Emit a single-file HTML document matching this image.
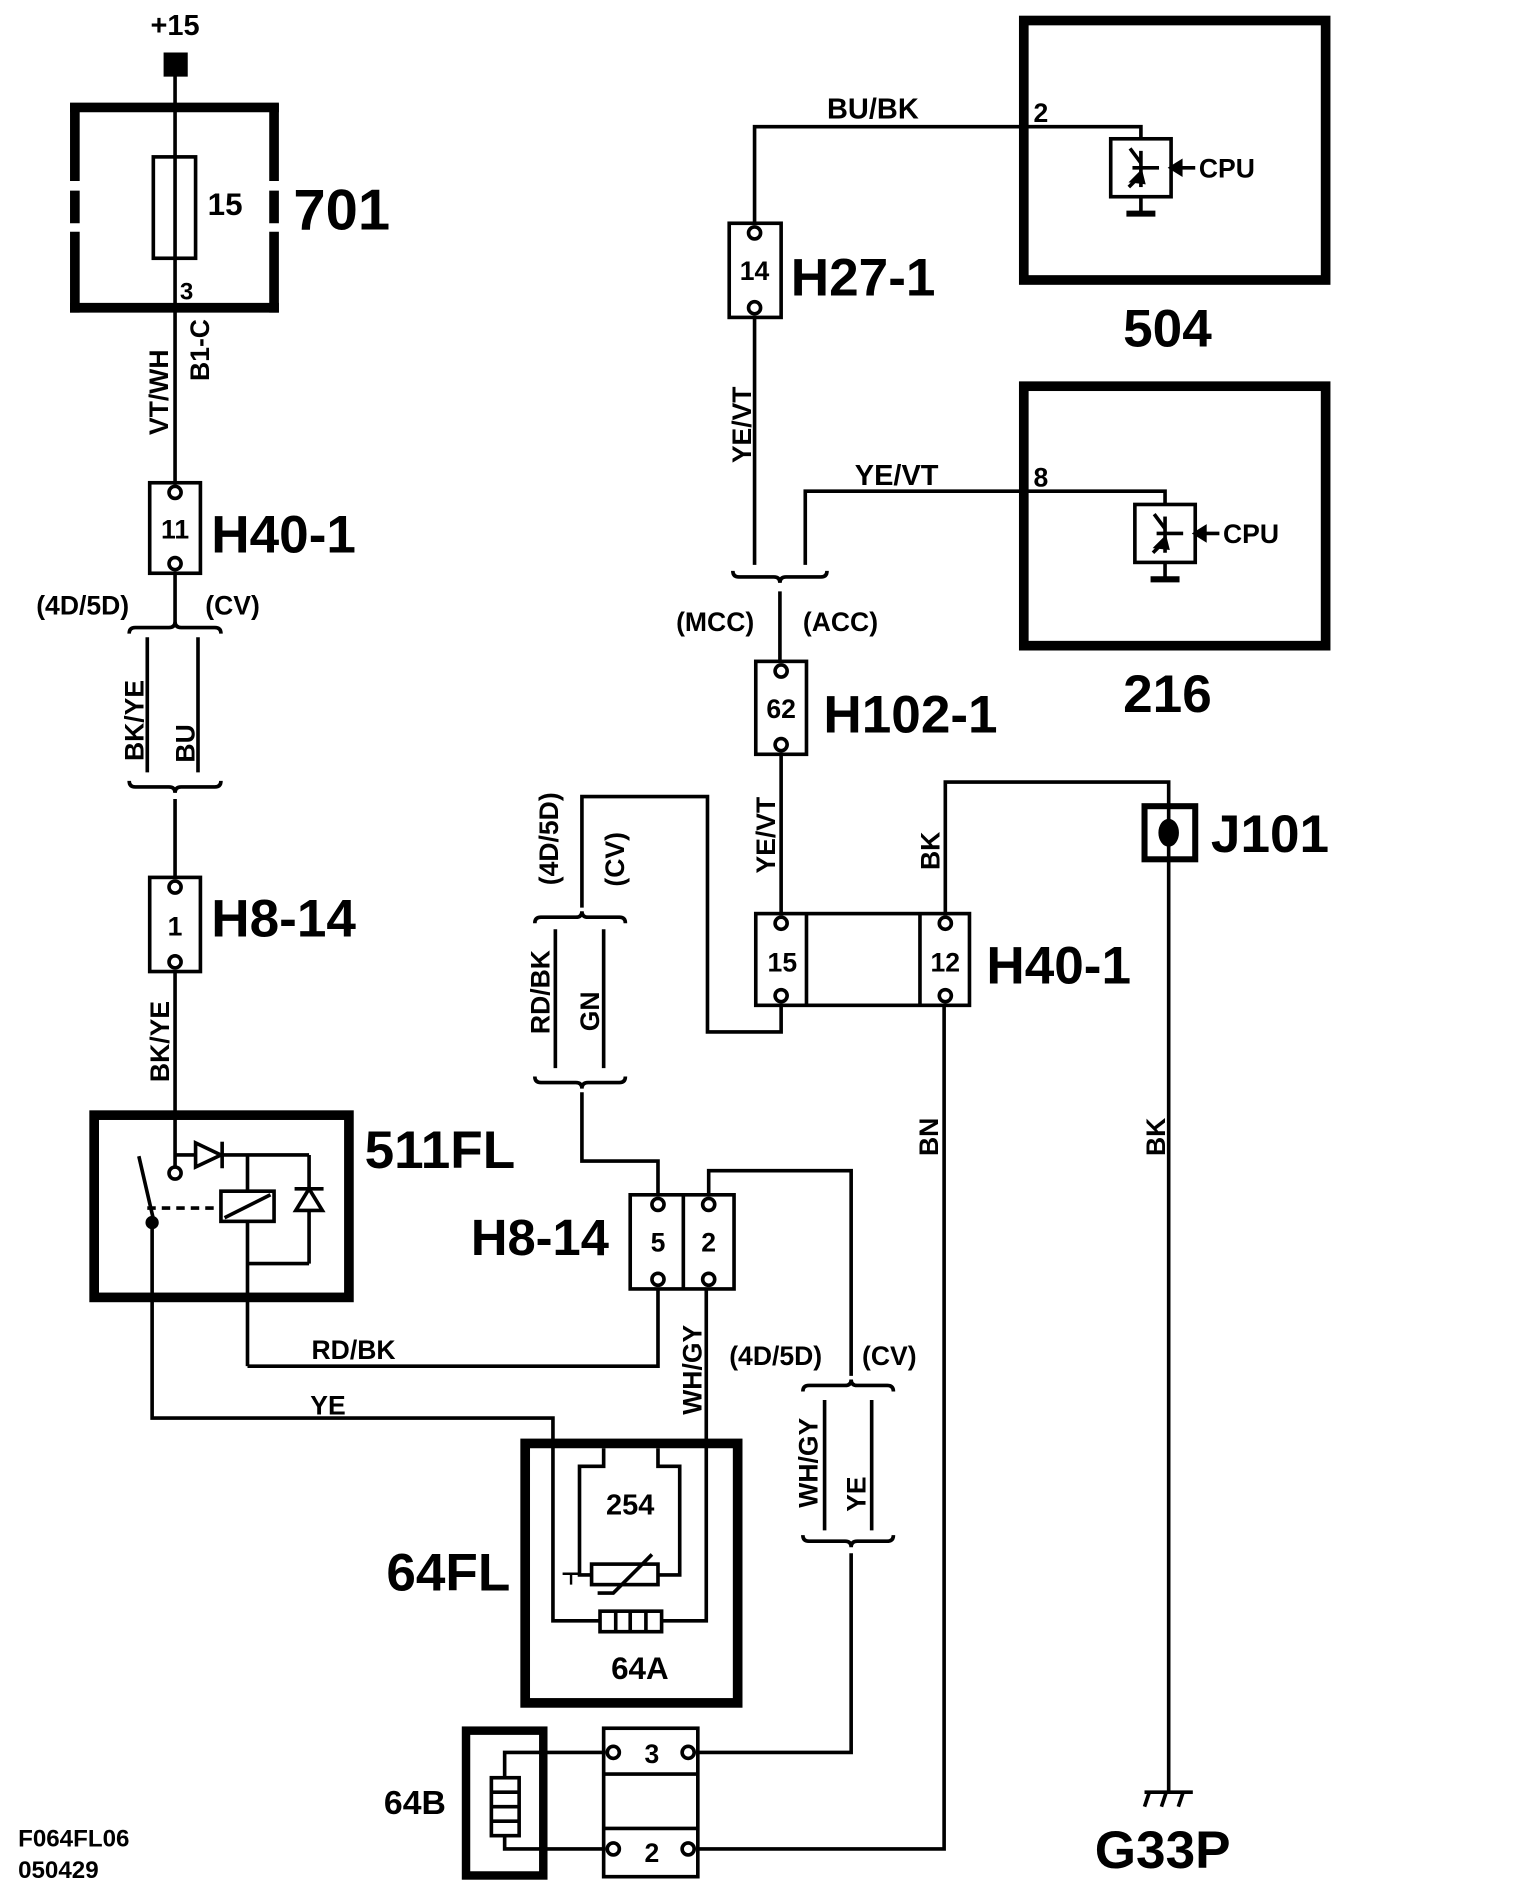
<!DOCTYPE html>
<html><head><meta charset="utf-8">
<style>
html,body{margin:0;padding:0;background:#fff;}
svg{display:block;}
text{font-family:"Liberation Sans",Arial,sans-serif;font-weight:bold;fill:#000;}
</style></head><body>
<svg width="1520" height="1896" viewBox="0 0 1259 1571" preserveAspectRatio="none" xmlns="http://www.w3.org/2000/svg">
<g fill="none" stroke="#000" stroke-width="3">
<rect x="137" y="45" width="17" height="17" fill="#000"/>
<line x1="145" y1="55" x2="145" y2="400"/>
<g stroke-width="8">
<line x1="58" y1="89" x2="231" y2="89"/>
<line x1="58" y1="255" x2="231" y2="255"/>
<line x1="62" y1="86" x2="62" y2="150"/><line x1="62" y1="158" x2="62" y2="185"/><line x1="62" y1="192" x2="62" y2="259"/>
<line x1="227" y1="86" x2="227" y2="150"/><line x1="227" y1="158" x2="227" y2="185"/><line x1="227" y1="192" x2="227" y2="259"/>
</g>
<rect x="127" y="130" width="35" height="84"/>
<rect x="124" y="400" width="42" height="75"/>
<circle cx="145" cy="408" r="5" fill="#fff"/><circle cx="145" cy="467" r="5" fill="#fff"/>
<line x1="145" y1="475" x2="145" y2="515"/>
<path d="M107,525 q0,-5 5,-5 H140 q5,0 5,-5 q0,5 5,5 H178 q5,0 5,5"/>
<line x1="122" y1="528" x2="122" y2="640"/><line x1="164" y1="528" x2="164" y2="640"/>
<path d="M107,647 q0,5 5,5 H140 q5,0 5,5 q0,-5 5,-5 H178 q5,0 5,-5"/>
<line x1="145" y1="662" x2="145" y2="727"/>
<rect x="124" y="727" width="42" height="78"/>
<circle cx="145" cy="735" r="5" fill="#fff"/><circle cx="145" cy="797" r="5" fill="#fff"/>
<line x1="145" y1="805" x2="145" y2="967"/>
<rect x="78" y="924" width="211" height="151" stroke-width="8"/>
<circle cx="145" cy="972" r="5" fill="#fff"/>
<line x1="145" y1="957" x2="256" y2="957"/>
<path d="M162,947 L183,957 L162,967 Z" fill="#fff"/><line x1="184" y1="946" x2="184" y2="968"/>
<line x1="205" y1="957" x2="205" y2="1132"/>
<rect x="183" y="987" width="44" height="25" fill="#fff"/><line x1="186" y1="1009" x2="224" y2="990"/>
<line x1="256" y1="957" x2="256" y2="1047"/><line x1="205" y1="1047" x2="256" y2="1047"/>
<path d="M245,1003 L256,985 L267,1003 Z" fill="#fff"/><line x1="244" y1="985" x2="268" y2="985"/>
<line x1="115" y1="958" x2="127" y2="1010"/>
<line x1="122" y1="1001" x2="183" y2="1001" stroke-dasharray="7,5"/>
<circle cx="126" cy="1013" r="4" fill="#000"/>
<polyline points="126,1013 126,1175 458,1175 458,1343 497,1343"/>
<polyline points="205,1132 545,1132 545,1068"/>
<rect x="522" y="990" width="86" height="78"/><line x1="566" y1="990" x2="566" y2="1068"/>
<circle cx="545" cy="998" r="5" fill="#fff"/><circle cx="545" cy="1060" r="5" fill="#fff"/>
<circle cx="587" cy="998" r="5" fill="#fff"/><circle cx="587" cy="1060" r="5" fill="#fff"/>
<polyline points="545,990 545,962 482,962 482,905"/>
<path d="M443,892 q0,5 5,5 H477 q5,0 5,5 q0,-5 5,-5 H513 q5,0 5,-5"/>
<line x1="460" y1="770" x2="460" y2="885"/><line x1="500" y1="770" x2="500" y2="885"/>
<path d="M443,765 q0,-5 5,-5 H477 q5,0 5,-5 q0,5 5,5 H513 q5,0 5,5"/>
<polyline points="482,752 482,660 586,660 586,855 647,855 647,833"/>
<polyline points="587,990 587,970 705,970 705,1140"/>
<path d="M665,1153 q0,-5 5,-5 H700 q5,0 5,-5 q0,5 5,5 H735 q5,0 5,5"/>
<line x1="683" y1="1160" x2="683" y2="1268"/><line x1="722" y1="1160" x2="722" y2="1268"/>
<path d="M665,1272 q0,5 5,5 H700 q5,0 5,5 q0,-5 5,-5 H735 q5,0 5,-5"/>
<polyline points="705,1287 705,1452 578,1452"/>
<rect x="435" y="1196" width="176" height="215" stroke-width="8"/>
<polyline points="500,1200 500,1215 480,1215 480,1305 490,1305"/>
<polyline points="545,1200 545,1215 563,1215 563,1305 545,1305"/>
<rect x="490" y="1296" width="55" height="17" fill="#fff"/>
<polyline points="495,1320 508,1320 540,1288"/>
<line x1="466" y1="1304" x2="480" y2="1304" stroke-width="2"/><line x1="473" y1="1304" x2="473" y2="1313" stroke-width="2"/>
<rect x="497" y="1335" width="51" height="17" fill="#fff"/>
<line x1="510" y1="1335" x2="510" y2="1352"/><line x1="522" y1="1335" x2="522" y2="1352"/><line x1="535" y1="1335" x2="535" y2="1352"/>
<polyline points="548,1343 585,1343 585,1068"/>
<rect x="386" y="1434" width="64" height="120" stroke-width="7"/>
<rect x="407" y="1473" width="23" height="48" fill="#fff"/>
<line x1="407" y1="1485" x2="430" y2="1485"/><line x1="407" y1="1497" x2="430" y2="1497"/><line x1="407" y1="1509" x2="430" y2="1509"/>
<polyline points="418,1473 418,1452 500,1452"/>
<polyline points="418,1521 418,1532 500,1532"/>
<rect x="500" y="1432" width="78" height="123"/>
<line x1="500" y1="1470" x2="578" y2="1470"/><line x1="500" y1="1515" x2="578" y2="1515"/>
<circle cx="508" cy="1452" r="5" fill="#fff"/><circle cx="570" cy="1452" r="5" fill="#fff"/>
<circle cx="508" cy="1532" r="5" fill="#fff"/><circle cx="570" cy="1532" r="5" fill="#fff"/>
<polyline points="578,1532 782,1532 782,833"/>
<rect x="848" y="17" width="250" height="215" stroke-width="8"/>
<rect x="848" y="320" width="250" height="215" stroke-width="8"/>
<polyline points="625,185 625,105 945,105 945,115"/>
<rect x="920" y="115" width="50" height="48"/>
<g stroke-width="3"><line x1="936" y1="123" x2="945" y2="135"/><line x1="945" y1="125" x2="945" y2="155"/><line x1="938" y1="139" x2="960" y2="139"/><line x1="935" y1="155" x2="945" y2="145"/></g>
<path d="M938,150 l7,-7 l2,8 z" fill="#000"/>
<line x1="972" y1="139" x2="990" y2="139"/><path d="M970,139 l8,-5 v10 z" fill="#000"/>
<line x1="945" y1="163" x2="945" y2="177"/><line x1="933" y1="177" x2="957" y2="177" stroke-width="5"/>
<rect x="604" y="185" width="43" height="78"/>
<circle cx="625" cy="193" r="5" fill="#fff"/><circle cx="625" cy="255" r="5" fill="#fff"/>
<line x1="625" y1="263" x2="625" y2="468"/>
<polyline points="667,468 667,407 965,407 965,418"/>
<rect x="940" y="418" width="50" height="48"/>
<g stroke-width="3"><line x1="956" y1="426" x2="965" y2="438"/><line x1="965" y1="428" x2="965" y2="458"/><line x1="958" y1="442" x2="980" y2="442"/><line x1="955" y1="458" x2="965" y2="448"/></g>
<path d="M958,453 l7,-7 l2,8 z" fill="#000"/>
<line x1="992" y1="442" x2="1010" y2="442"/><path d="M990,442 l8,-5 v10 z" fill="#000"/>
<line x1="965" y1="466" x2="965" y2="480"/><line x1="953" y1="480" x2="977" y2="480" stroke-width="5"/>
<path d="M607,473 q0,5 5,5 H641 q5,0 5,5 q0,-5 5,-5 H680 q5,0 5,-5"/>
<line x1="646" y1="490" x2="646" y2="548"/>
<rect x="626" y="548" width="42" height="77"/>
<circle cx="647" cy="556" r="5" fill="#fff"/><circle cx="647" cy="617" r="5" fill="#fff"/>
<line x1="647" y1="625" x2="647" y2="757"/>
<rect x="626" y="757" width="177" height="76"/>
<line x1="668" y1="757" x2="668" y2="833"/><line x1="762" y1="757" x2="762" y2="833"/>
<circle cx="647" cy="765" r="5" fill="#fff"/><circle cx="647" cy="825" r="5" fill="#fff"/>
<circle cx="783" cy="765" r="5" fill="#fff"/><circle cx="783" cy="825" r="5" fill="#fff"/>
<polyline points="783,757 783,648 968,648 968,1485"/>
<rect x="948" y="668" width="42" height="44" stroke-width="5" fill="#fff"/>
<ellipse cx="968" cy="690" rx="7" ry="10" fill="#000"/>
<line x1="968" y1="668" x2="968" y2="712"/>
<line x1="948" y1="1485" x2="988" y2="1485"/>
<line x1="952" y1="1485" x2="948" y2="1497"/><line x1="966" y1="1485" x2="962" y2="1497"/><line x1="980" y1="1485" x2="976" y2="1497"/>
</g>
<text x="145" y="29" font-size="24" text-anchor="middle">+15</text>
<text x="172" y="178" font-size="26">15</text>
<text x="149" y="248" font-size="20">3</text>
<text x="243" y="190" font-size="48">701</text>
<text transform="translate(139,325) rotate(-90)" font-size="22" text-anchor="middle">VT/WH</text>
<text transform="translate(173,290) rotate(-90)" font-size="22" text-anchor="middle">B1-C</text>
<text x="145" y="446" font-size="22" text-anchor="middle">11</text>
<text x="175" y="458" font-size="44">H40-1</text>
<text x="30" y="509" font-size="22">(4D/5D)</text>
<text x="170" y="509" font-size="22">(CV)</text>
<text transform="translate(119,597) rotate(-90)" font-size="22" text-anchor="middle">BK/YE</text>
<text transform="translate(161,616) rotate(-90)" font-size="22" text-anchor="middle">BU</text>
<text x="145" y="775" font-size="22" text-anchor="middle">1</text>
<text x="175" y="776" font-size="44">H8-14</text>
<text transform="translate(140,863) rotate(-90)" font-size="22" text-anchor="middle">BK/YE</text>
<text x="302" y="968" font-size="44">511FL</text>
<text x="390" y="1040" font-size="42">H8-14</text>
<text x="545" y="1037" font-size="22" text-anchor="middle">5</text>
<text x="587" y="1037" font-size="22" text-anchor="middle">2</text>
<text x="258" y="1126" font-size="22">RD/BK</text>
<text x="257" y="1172" font-size="22">YE</text>
<text transform="translate(581,1135) rotate(-90)" font-size="22" text-anchor="middle">WH/GY</text>
<text x="604" y="1131" font-size="22">(4D/5D)</text>
<text x="714" y="1131" font-size="22">(CV)</text>
<text transform="translate(677,1212) rotate(-90)" font-size="22" text-anchor="middle">WH/GY</text>
<text transform="translate(717,1238) rotate(-90)" font-size="22" text-anchor="middle">YE</text>
<text x="522" y="1255" font-size="24" text-anchor="middle">254</text>
<text x="530" y="1391" font-size="26" text-anchor="middle">64A</text>
<text x="320" y="1318" font-size="44">64FL</text>
<text x="318" y="1503" font-size="28">64B</text>
<text x="540" y="1461" font-size="22" text-anchor="middle">3</text>
<text x="540" y="1543" font-size="22" text-anchor="middle">2</text>
<text x="15" y="1530" font-size="20">F064FL06</text>
<text x="15" y="1556" font-size="20">050429</text>
<text transform="translate(462,695) rotate(-90)" font-size="22" text-anchor="middle">(4D/5D)</text>
<text transform="translate(517,712) rotate(-90)" font-size="22" text-anchor="middle">(CV)</text>
<text transform="translate(455,822) rotate(-90)" font-size="22" text-anchor="middle">RD/BK</text>
<text transform="translate(496,838) rotate(-90)" font-size="22" text-anchor="middle">GN</text>
<text x="685" y="98" font-size="24">BU/BK</text>
<text x="856" y="101" font-size="22">2</text>
<text x="993" y="147" font-size="22">CPU</text>
<text x="967" y="287" font-size="44" text-anchor="middle">504</text>
<text x="625" y="232" font-size="22" text-anchor="middle">14</text>
<text x="655" y="245" font-size="44">H27-1</text>
<text transform="translate(622,352) rotate(-90)" font-size="22" text-anchor="middle">YE/VT</text>
<text x="708" y="402" font-size="24">YE/VT</text>
<text x="856" y="403" font-size="22">8</text>
<text x="1013" y="450" font-size="22">CPU</text>
<text x="967" y="590" font-size="44" text-anchor="middle">216</text>
<text x="560" y="523" font-size="22">(MCC)</text>
<text x="665" y="523" font-size="22">(ACC)</text>
<text x="647" y="595" font-size="22" text-anchor="middle">62</text>
<text x="682" y="607" font-size="44">H102-1</text>
<text transform="translate(642,692) rotate(-90)" font-size="22" text-anchor="middle">YE/VT</text>
<text transform="translate(778,705) rotate(-90)" font-size="22" text-anchor="middle">BK</text>
<text x="648" y="805" font-size="22" text-anchor="middle">15</text>
<text x="783" y="805" font-size="22" text-anchor="middle">12</text>
<text x="817" y="815" font-size="44">H40-1</text>
<text x="1003" y="706" font-size="44">J101</text>
<text transform="translate(777,942) rotate(-90)" font-size="22" text-anchor="middle">BN</text>
<text transform="translate(965,942) rotate(-90)" font-size="22" text-anchor="middle">BK</text>
<text x="963" y="1548" font-size="44" text-anchor="middle">G33P</text>
</svg>
</body></html>
